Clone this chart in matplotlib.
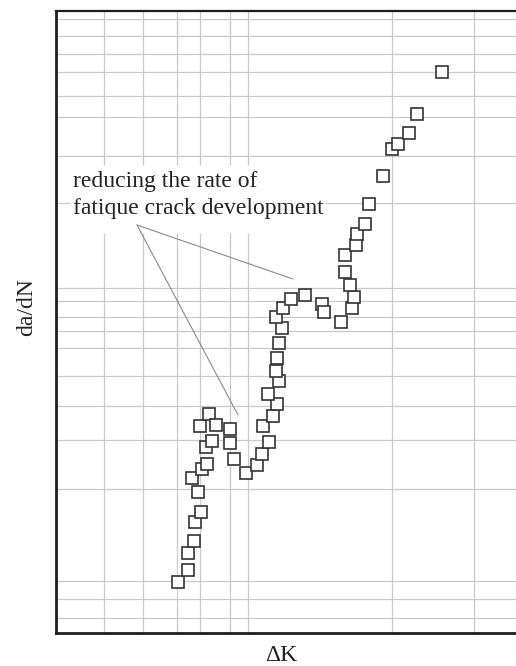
import matplotlib.pyplot as plt

# measured positions, arbitrary units (no scale is shown on the chart)
dk = [122.3, 131.7, 131.7, 138.3, 138.5, 145, 142, 136, 146, 151,
      149.7, 155.7, 143.5, 153, 159.8, 174, 174, 178.2, 189.7, 201.3,
      206, 213.2, 206.5, 217.2, 221, 212, 223.3, 219.5, 220.5, 222.7,
      225.5, 219.7, 226.5, 235.3, 249.2, 265.5, 267.7, 285, 295.8, 298,
      293.7, 289, 289.3, 299.5, 301.2, 308.7, 312.7, 327.3, 336.3, 342,
      352.7, 361.3, 385.7]
dadn = [50.7, 63, 79.7, 92.5, 110.7, 121.3, 141.2, 155, 163.7, 169.2,
        185.7, 192, 207, 218.5, 208, 204.3, 190, 174.5, 160.2, 167.7,
        179.2, 191, 206.7, 217.2, 228.5, 239.3, 251.7, 261.8, 274.5, 289.5,
        305, 315.5, 325.3, 333.7, 337.5, 329.2, 321, 311, 325, 335.7,
        347.7, 360.5, 377.5, 388.3, 398.5, 408.7, 429.3, 456.7, 484, 489.3,
        499.7, 519.3, 561]

grid_x = [48, 87, 120.5, 144, 174, 192, 336, 418]
grid_y = [614, 597, 579, 560.5, 537, 516, 477, 429.5, 345, 331.5, 315.5,
          301.5, 284.5, 257, 226.5, 192.5, 144.5, 52, 34, 15]

note = "reducing the rate of\nfatique crack development"
note_from = (81, 408)
note_to = [(237, 354), (182, 218)]

plt.rcParams['font.family'] = ['Liberation Serif', 'DejaVu Serif']

fig = plt.figure(figsize=(5.16, 6.66), dpi=100)
ax = fig.add_axes([56 / 516, 33 / 666, 460 / 516, 622 / 666])
ax.set_xlim(0, 460)
ax.set_ylim(0, 622)

grid_kw = dict(color='#c9c9c9', lw=0.9, zorder=1)
for gx in grid_x:
    if gx < 250:
        # these lines break around the note
        ax.vlines(gx, 0, 400, **grid_kw)
        ax.vlines(gx, 468, 622, **grid_kw)
    else:
        ax.vlines(gx, 0, 622, **grid_kw)
ax.hlines(grid_y, 0, 460, **grid_kw)

ax.plot(dk, dadn, ls='none', marker='s', ms=9.0, mfc='white',
        mec='#333333', mew=1.2, zorder=5)

ax.text(17, 438, note, fontsize=17, va='center', ha='left',
        linespacing=1.4, color='#222222', zorder=3,
        bbox=dict(boxstyle='square,pad=0.12', fc='white', ec='none'))
for tx, ty in note_to:
    ax.annotate('', xy=(tx, ty), xytext=note_from,
                arrowprops=dict(arrowstyle='-', color='#8a8a8a', lw=0.8,
                                shrinkA=0, shrinkB=0), zorder=2)

ax.set_xticks([])
ax.set_yticks([])
ax.spines['right'].set_visible(False)
ax.spines['left'].set_linewidth(2.0)
ax.spines['bottom'].set_linewidth(2.0)
ax.spines['top'].set_linewidth(1.6)
for s in ['left', 'bottom', 'top']:
    ax.spines[s].set_color('#1e1e1e')

ax.set_xlabel('ΔK', fontsize=17, color='#222222')
ax.set_ylabel('da/dN', fontsize=17, color='#222222')
ax.xaxis.set_label_coords(0.489, -0.019)
ax.yaxis.set_label_coords(-0.041, 0.524)

fig.savefig('out.png', dpi=100)
